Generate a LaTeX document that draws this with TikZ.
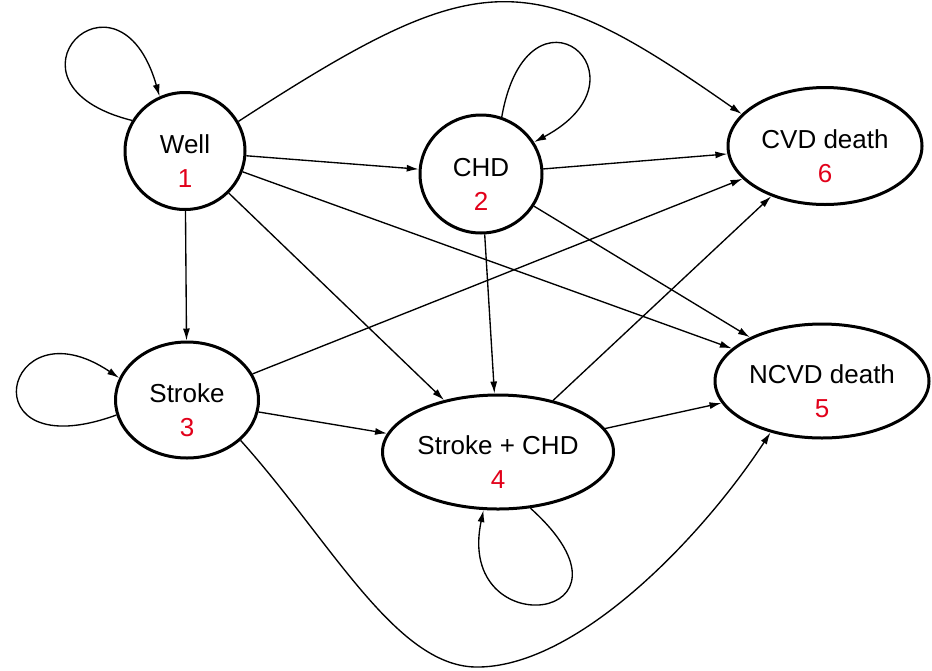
\documentclass[tikz,border=0pt]{standalone}
\usepackage{fontspec}
\setmainfont{Liberation Sans}
\usetikzlibrary{shapes.geometric,arrows.meta}
\definecolor{numred}{RGB}{226,0,26}
\begin{document}
\begin{tikzpicture}[x=1pt,y=-1pt,
  state/.style={ellipse,draw=black,line width=3pt,inner sep=0pt,fill=white},
  nm/.style={font=\fontsize{26pt}{30pt}\selectfont, text height=18.5pt, text depth=0pt, inner sep=0pt},
  num/.style={nm,text=numred},
  arr/.style={line width=1.35pt,-{Latex[length=12pt,width=7pt]}},
]
\useasboundingbox (0,0) rectangle (932,670);
% states
\node[state,minimum width=120pt,minimum height=117pt] (well) at (185,151) {};
\node[state,minimum width=122pt,minimum height=118pt] (chd) at (481,174) {};
\node[state,minimum width=194pt,minimum height=117pt] (cvd) at (825,146) {};
\node[state,minimum width=143pt,minimum height=116pt] (stroke) at (187,400) {};
\node[state,minimum width=231pt,minimum height=114pt] (sc) at (498,452) {};
\node[state,minimum width=214pt,minimum height=114pt] (ncvd) at (822,381) {};
% labels
\node[nm] (well-n) at ([yshift=7pt]well.center) {Well};
\node[num] (well-d) at ([yshift=-27pt]well.center) {1};
\node[nm] (chd-n) at ([yshift=7pt]chd.center) {CHD};
\node[num] (chd-d) at ([yshift=-27pt]chd.center) {2};
\node[nm] (stroke-n) at ([yshift=7pt]stroke.center) {Stroke};
\node[num] (stroke-d) at ([yshift=-27pt]stroke.center) {3};
\node[nm] (sc-n) at ([yshift=7pt]sc.center) {Stroke + CHD};
\node[num] (sc-d) at ([yshift=-27pt]sc.center) {4};
\node[nm] (ncvd-n) at ([yshift=7pt]ncvd.center) {NCVD death};
\node[num] (ncvd-d) at ([yshift=-27pt]ncvd.center) {5};
\node[nm] (cvd-n) at ([yshift=7pt]cvd.center) {CVD death};
\node[num] (cvd-d) at ([yshift=-27pt]cvd.center) {6};
% self loops
\draw[arr] (well.150) .. controls +(166:150pt) and +(106:150pt) .. (well.115);
\draw[arr] (chd.70) .. controls +(80:150pt) and +(28:140pt) .. (chd.31);
\draw[arr] (stroke.192) .. controls +(200:160pt) and +(146:140pt) .. (stroke.162);
\draw[arr] (sc.300) .. controls +(318:170pt) and +(258:140pt) .. (sc.256);
% transitions
\draw[arr] (well.29) .. controls +(33:290pt) and +(145:260pt) .. (cvd.159);
\draw[arr] (well) -- (chd);
\draw[arr] (well) -- (stroke);
\draw[arr] (well) -- (sc);
\draw[arr] (well) -- (ncvd);
\draw[arr] (chd) -- (cvd);
\draw[arr] (chd) -- (sc);
\draw[arr] (chd) -- (ncvd);
\draw[arr] (stroke) -- (cvd);
\draw[arr] (stroke) -- (sc);
\draw[arr] (stroke.323) .. controls (330,540) and (395,665) .. (475,667) .. controls (575,669) and (700,540) .. (ncvd.225);
\draw[arr] (sc) -- (cvd);
\draw[arr] (sc) -- (ncvd);
\end{tikzpicture}
\end{document}
